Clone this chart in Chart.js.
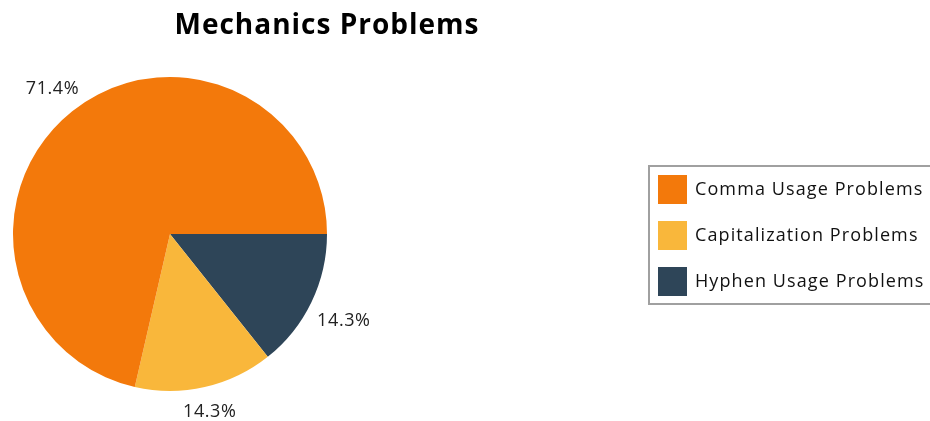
<!DOCTYPE html>
<html>
<head>
<meta charset="utf-8">
<script src="https://cdn.jsdelivr.net/npm/chart.js@4/dist/chart.umd.min.js"></script>
<style>
html,body{margin:0;padding:0;background:#fff;}
#wrap{width:930px;height:421px;position:relative;}
</style>
</head>
<body>
<div id="wrap"><canvas id="c" width="930" height="421"></canvas></div>
<script>
const chartTitle = "Mechanics Problems";
const categories = ["Hyphen Usage Problems", "Capitalization Problems", "Comma Usage Problems"];
const values = [14.3, 14.3, 71.4];
const valueLabels = ["14.3%", "14.3%", "71.4%"];
const colors = ["#2E4558", "#F9B73B", "#F3790B"];

const FONT = "'Open Sans', 'Noto Sans', sans-serif";

const overlay = {
  id: 'overlay',
  afterDatasetsDraw(chart) {
    const ctx = chart.ctx;
    const meta = chart.getDatasetMeta(0);
    ctx.save();
    // slice labels
    ctx.font = "18px " + FONT;
    ctx.letterSpacing = "0.6px";
    ctx.fillStyle = "#222";
    ctx.textAlign = "center";
    ctx.textBaseline = "middle";
    meta.data.forEach((arc, i) => {
      const p = arc.getProps(['x','y','startAngle','endAngle','outerRadius'], true);
      const a = (p.startAngle + p.endAngle) / 2;
      const txt = valueLabels[i];
      const w = ctx.measureText(txt).width;
      const h = 18;
      const r = p.outerRadius + 8 + Math.abs(Math.cos(a)) * w / 2 + Math.abs(Math.sin(a)) * h / 2;
      ctx.fillText(txt, p.x + r * Math.cos(a), p.y + r * Math.sin(a) + 3);
    });
    // title
    ctx.font = "bold 28px " + FONT;
    ctx.letterSpacing = "1px";
    ctx.fillStyle = "#000";
    ctx.textAlign = "center";
    ctx.textBaseline = "alphabetic";
    ctx.fillText(chartTitle, 327, 34);
    // legend (reverse order)
    const lx = 649, ly = 166, lw = 290, lh = 138;
    ctx.strokeStyle = "#A0A0A0";
    ctx.lineWidth = 2;
    ctx.strokeRect(lx, ly, lw, lh);
    ctx.font = "18px " + FONT;
    ctx.letterSpacing = "1.1px";
    ctx.textAlign = "left";
    ctx.textBaseline = "middle";
    const order = categories.map((_, i) => i).reverse();
    order.forEach((idx, k) => {
      const y = 175 + k * 46;
      ctx.fillStyle = colors[idx];
      ctx.fillRect(658, y, 29, 29);
      ctx.fillStyle = "#111";
      ctx.fillText(categories[idx], 695, y + 15);
    });
    ctx.restore();
  }
};

new Chart(document.getElementById('c'), {
  type: 'pie',
  data: {
    labels: categories,
    datasets: [{
      data: values,
      backgroundColor: colors,
      borderWidth: 0
    }]
  },
  options: {
    responsive: false,
    animation: false,
    rotation: 90,
    layout: { padding: { left: 13, right: 603, top: 77, bottom: 30 } },
    plugins: {
      legend: { display: false },
      title: { display: false },
      tooltip: { enabled: false }
    }
  },
  plugins: [overlay]
});
</script>
</body>
</html>
